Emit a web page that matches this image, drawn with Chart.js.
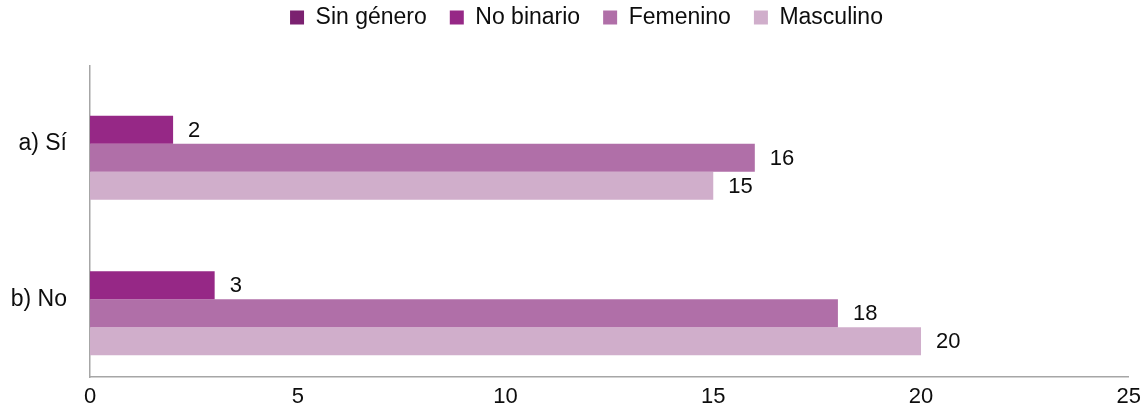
<!DOCTYPE html>
<html>
<head>
<meta charset="utf-8">
<script src="https://cdn.jsdelivr.net/npm/chart.js@4"></script>
<style>
  body { margin: 0; background: #fff; }
  #wrap { width: 1148px; height: 419px; }
</style>
</head>
<body>
<div id="wrap"><canvas id="myBarChart"></canvas></div>
<script>
// datos del gráfico
var categorias = ['a) Sí', 'b) No'];
var sinGenero = [null, null];
var noBinario = [2, 3];
var femenino = [16, 18];
var masculino = [15, 20];
var ticksX = [0, 5, 10, 15, 20, 25];

var fuente = '"Liberation Sans", Arial, sans-serif';
var colorTexto = '#0d0d0d';

// etiquetas de valor a la derecha de cada barra
var etiquetas = {
    id: 'etiquetas',
    afterDatasetsDraw: function(chart) {
        var ctx = chart.ctx;
        ctx.save();
        ctx.font = '22px ' + fuente;
        ctx.fillStyle = colorTexto;
        ctx.textAlign = 'left';
        ctx.textBaseline = 'middle';
        chart.data.datasets.forEach(function(ds, i) {
            var meta = chart.getDatasetMeta(i);
            meta.data.forEach(function(bar, j) {
                var v = ds.data[j];
                if (v === null || v === undefined) return;
                ctx.fillText(String(v), bar.x + 15, bar.y + 1);
            });
        });
        ctx.restore();
    }
};

// leyenda: alto fijo y posición arriba
var espacioLeyenda = {
    id: 'espacioLeyenda',
    beforeInit: function(chart) {
        var fitOriginal = chart.legend.fit;
        chart.legend.fit = function() {
            fitOriginal.bind(chart.legend)();
            this.height = 66;
        };
    },
    afterLayout: function(chart) {
        chart.legend.top = -17;
        chart.legend.left += 21;
        chart.legend.right += 21;
    }
};

window.onload = function() {
    var ctx = document.getElementById('myBarChart').getContext('2d');
    new Chart(ctx, {
        type: 'bar',
        data: {
            labels: categorias,
            datasets: [
                { label: 'Sin género', data: sinGenero, backgroundColor: '#7b2170' },
                { label: 'No binario', data: noBinario, backgroundColor: '#962886' },
                { label: 'Femenino', data: femenino, backgroundColor: '#b06fa8' },
                { label: 'Masculino', data: masculino, backgroundColor: '#d0aecb' }
            ]
        },
        options: {
            indexAxis: 'y',
            responsive: true,
            maintainAspectRatio: false,
            animation: false,
            layout: { padding: { top: 0, right: 17, left: 0, bottom: 0 } },
            categoryPercentage: 0.72,
            barPercentage: 1.0,
            scales: {
                x: {
                    min: 0,
                    max: 25,
                    afterBuildTicks: function(axis) {
                        axis.ticks = ticksX.map(function(v) { return { value: v }; });
                    },
                    afterFit: function(axis) { axis.height = 42; },
                    grid: { display: false, drawTicks: false },
                    border: { display: true, color: '#a6a6a6', width: 1.5 },
                    ticks: { padding: 7, color: colorTexto, font: { family: fuente, size: 22 }, maxRotation: 0 }
                },
                y: {
                    afterFit: function(axis) { axis.width = 90; },
                    grid: { display: false, drawTicks: false },
                    border: { display: true, color: '#a6a6a6', width: 1.5 },
                    ticks: { padding: 23, color: colorTexto, font: { family: fuente, size: 23 } }
                }
            },
            plugins: {
                legend: {
                    position: 'top',
                    labels: {
                        boxWidth: 14,
                        boxHeight: 14,
                        padding: 23,
                        color: colorTexto,
                        font: { family: fuente, size: 23 }
                    }
                },
                tooltip: { enabled: false }
            }
        },
        plugins: [etiquetas, espacioLeyenda]
    });
};
</script>
</body>
</html>
